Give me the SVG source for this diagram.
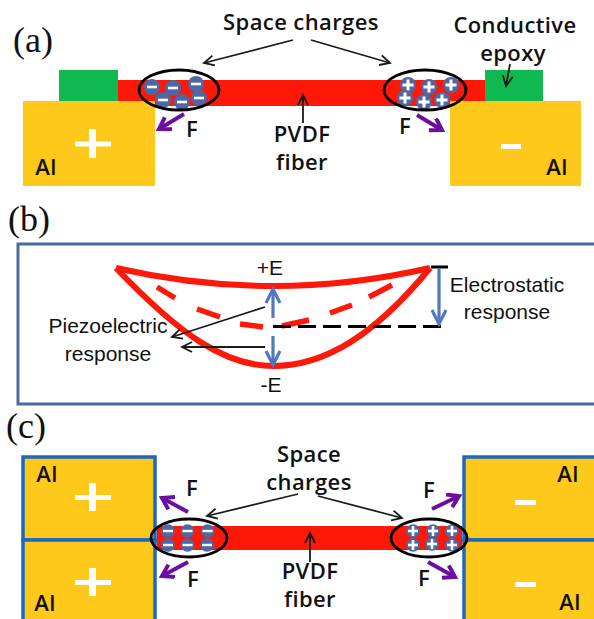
<svg xmlns="http://www.w3.org/2000/svg" xmlns:xlink="http://www.w3.org/1999/xlink" width="594" height="619" viewBox="0 0 594 619">
<style>
text{font-family:"Open Sans","Liberation Sans",sans-serif;font-size:22px;fill:#111;text-anchor:middle;font-weight:600;letter-spacing:.4px}
.lab{font-family:"Liberation Serif",serif;font-size:36px;font-weight:400;text-anchor:start;letter-spacing:0}
.sm{font-family:"Liberation Sans",sans-serif;font-size:21px;font-weight:400;letter-spacing:0}
.al{fill:#FFC91B}
.alb{fill:#FFC91B;stroke:#1B68BE;stroke-width:3.5}
.gr{fill:#10B950}
.fib{fill:#FF1708}
.ell{fill:none;stroke:#000;stroke-width:2.8}
.thin{fill:none;stroke:#1a1a1a;stroke-width:1.8;marker-end:url(#open)}
.pur{fill:none;stroke:#6A0FA0;stroke-width:4;marker-end:url(#pu)}
.blu{fill:none;stroke:#4F78BE;stroke-width:3.2}
.curve{fill:none;stroke:#FF1708;stroke-width:6}
.w{fill:#fff}
</style>
<defs>
<marker id="open" markerUnits="userSpaceOnUse" markerWidth="14" markerHeight="14" refX="11" refY="6" orient="auto"><path d="M1 1L11 6L1 11" fill="none" stroke="#1a1a1a" stroke-width="1.8"/></marker>
<marker id="pu" markerUnits="userSpaceOnUse" markerWidth="18" markerHeight="18" refX="13" refY="8" orient="auto"><path d="M2 1L13 8L2 15" fill="none" stroke="#6A0FA0" stroke-width="4"/></marker>
<marker id="bl" markerUnits="userSpaceOnUse" markerWidth="20" markerHeight="20" refX="16" refY="10" orient="auto"><path d="M2 3L16 10L2 17" fill="none" stroke="#4F78BE" stroke-width="3.2"/></marker>
<g id="neg"><circle r="8" fill="#4F68A4"/><rect x="-5" y="-1.3" width="10" height="2.6" fill="#fff"/></g>
<g id="pos"><circle r="8" fill="#4F68A4"/><rect x="-5.500" y="-1.500" width="11" height="3" fill="#fff"/><rect x="-1.500" y="-5.500" width="3" height="11" fill="#fff"/></g>
<g id="neg2"><circle r="6.800" fill="#4F68A4"/><rect x="-5" y="-1.2" width="10" height="2.4" fill="#fff"/></g>
<g id="pos2"><circle r="6.800" fill="#4F68A4"/><rect x="-5" y="-1.300" width="10" height="2.6" fill="#fff"/><rect x="-1.300" y="-5" width="2.6" height="10" fill="#fff"/></g>
</defs>

<g id="labels">
<text class="lab" x="13" y="52">(a)</text>
<text class="lab" x="8" y="231">(b)</text>
<text class="lab" x="6" y="438">(c)</text>
</g>

<g id="a-fiber"><rect class="fib" x="118" y="80" width="368" height="26"/></g>
<g id="a-left-electrode"><rect class="al" x="23" y="101" width="132" height="85"/><rect class="w" x="75" y="141.500" width="36" height="5"/><rect class="w" x="89" y="129" width="7" height="29"/><text x="46" y="175">Al</text></g>
<g id="a-right-electrode"><rect class="al" x="450" y="101" width="131" height="85"/><rect class="w" x="501" y="144" width="20" height="5"/><text x="557" y="175">Al</text></g>
<g id="a-left-epoxy"><rect class="gr" x="59" y="70" width="59" height="31"/></g>
<g id="a-right-epoxy"><rect class="gr" x="485" y="70" width="58" height="31"/></g>
<g id="a-left-charges">
<use href="#neg" x="152" y="87"/><use href="#neg" x="173" y="88"/><use href="#neg" x="196" y="84"/><use href="#neg" x="163" y="100"/><use href="#neg" x="182" y="102"/><use href="#neg" x="199" y="98"/>
<ellipse class="ell" cx="179" cy="90" rx="40" ry="20"/></g>
<g id="a-right-charges">
<use href="#pos" x="408" y="85"/><use href="#pos" x="429" y="87"/><use href="#pos" x="451" y="85"/><use href="#pos" x="405" y="98"/><use href="#pos" x="424" y="102"/><use href="#pos" x="442" y="100"/>
<ellipse class="ell" cx="425" cy="90" rx="41" ry="20"/></g>
<g id="a-text">
<text x="301" y="30">Space charges</text>
<text x="515" y="33">Conductive</text>
<text x="513" y="61">epoxy</text>
<text x="302" y="142">PVDF</text>
<text x="302" y="170">fiber</text>
<text x="192" y="137">F</text>
<text x="405" y="134">F</text>
</g>

<g id="b-panel"><path d="M596 244H18V404H596" fill="none" stroke="#4A6A9E" stroke-width="3"/></g>
<g id="b-curves">
<path class="curve" d="M116 268Q273 304 430 268"/>
<path class="curve" d="M116 268C180 335 225 366 273 366C325 366 375 335 430 268"/>
<path d="M157 287L175 298M197 309L220 317M240 324L263 327M282 326L309 320M330 313L352 305M369 297L392 285" fill="none" stroke="#FF1708" stroke-width="5.500"/>
</g>
<g id="b-text">
<text class="sm" x="270" y="275">+E</text>
<text class="sm" x="271" y="392">-E</text>
<text class="sm" x="108" y="333">Piezoelectric</text>
<text class="sm" x="108" y="361">response</text>
<text class="sm" x="507" y="292">Electrostatic</text>
<text class="sm" x="507" y="319">response</text>
</g>

<g id="c-fiber"><rect class="fib" x="157" y="526" width="305" height="24"/></g>
<g id="c-left-electrodes">
<path class="alb" d="M23 457H155V540H23Z"/><path class="alb" d="M23 540H155V622H23Z"/>
<rect class="w" x="75" y="495" width="36" height="5"/><rect class="w" x="89" y="483" width="7" height="28"/>
<rect class="w" x="75" y="580" width="36" height="5"/><rect class="w" x="89" y="568" width="7" height="28"/>
<text x="47" y="482">Al</text><text x="45" y="611">Al</text>
</g>
<g id="c-right-electrodes">
<path class="alb" d="M464 457H598V540H464Z"/><path class="alb" d="M464 540H598V622H464Z"/>
<rect class="w" x="515" y="500" width="21" height="5"/><rect class="w" x="515" y="582" width="21" height="5"/>
<text x="568" y="482">Al</text><text x="570" y="610">Al</text>
</g>
<g id="c-left-charges">
<use href="#neg2" x="168" y="531"/><use href="#neg2" x="187.500" y="531"/><use href="#neg2" x="207.500" y="531"/><use href="#neg2" x="168" y="545"/><use href="#neg2" x="187.500" y="545"/><use href="#neg2" x="207" y="545"/>
<ellipse class="ell" cx="189" cy="538" rx="38" ry="19"/></g>
<g id="c-right-charges">
<use href="#pos2" x="413" y="531"/><use href="#pos2" x="433" y="531"/><use href="#pos2" x="452" y="531"/><use href="#pos2" x="413" y="545"/><use href="#pos2" x="432" y="544"/><use href="#pos2" x="452" y="545"/>
<ellipse class="ell" cx="429" cy="538" rx="38" ry="19"/></g>
<g id="c-text">
<text x="309" y="462">Space</text>
<text x="309" y="490">charges</text>
<text x="310" y="579">PVDF</text>
<text x="310" y="607">fiber</text>
<text x="192" y="496">F</text>
<text x="193" y="587">F</text>
<text x="429" y="498">F</text>
<text x="424" y="586">F</text>
</g>

<g id="connectors">
<path class="thin" d="M293 40L204 63"/>
<path class="thin" d="M311 40L390 63"/>
<path class="thin" d="M303 123V95"/>
<path class="thin" d="M510 64L506 86"/>
<path class="pur" d="M184 114L159 129"/>
<path class="pur" d="M417 115L442 130"/>
<path class="thin" d="M265 307L172 337"/>
<path class="thin" d="M265 347H182"/>
<path d="M431 267H448" fill="none" stroke="#000" stroke-width="3"/>
<path d="M273 326.500H448" fill="none" stroke="#000" stroke-width="3" stroke-dasharray="18 7"/>
<path class="blu" d="M439 268V324" marker-end="url(#bl)"/>
<path class="blu" d="M273 318V289" marker-end="url(#bl)"/>
<path class="blu" d="M273 336V365" marker-end="url(#bl)"/>
<path class="thin" d="M298 494L207 516"/>
<path class="thin" d="M318 496L402 518"/>
<path class="thin" d="M310 562V533"/>
<path class="pur" d="M188 512L162 498"/>
<path class="pur" d="M188 562L162 576"/>
<path class="pur" d="M432 509L459 496"/>
<path class="pur" d="M428 562L455 577"/>
</g>
</svg>
